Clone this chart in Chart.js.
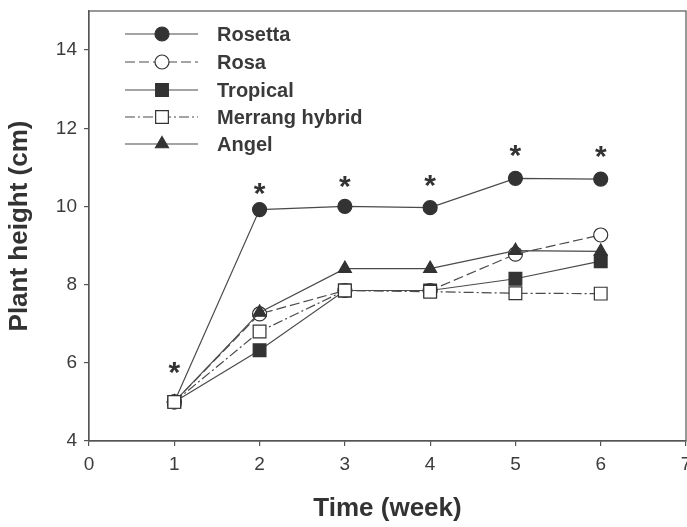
<!DOCTYPE html>
<html><head><meta charset="utf-8">
<script src="https://cdn.jsdelivr.net/npm/chart.js@4/dist/chart.umd.min.js"></script>
<style>html,body{margin:0;padding:0;background:#fff;overflow:hidden;}#wrap{width:700px;height:527px;}</style>
</head><body><div id="wrap"><canvas id="c" width="700" height="527"></canvas></div>
<script>
const weeks = [1, 2, 3, 4, 5, 6];
const rosetta = [5.0, 9.92, 10.0, 9.97, 10.72, 10.7];
const rosa = [5.0, 7.25, 7.85, 7.85, 8.78, 9.27];
const tropical = [5.0, 6.32, 7.85, 7.85, 8.15, 8.6];
const merrang = [5.0, 6.8, 7.85, 7.82, 7.78, 7.77];
const angel = [5.0, 7.29, 8.41, 8.41, 8.87, 8.85];
const asteriskY = [5.94, 10.53, 10.71, 10.73, 11.5, 11.47];
const xTicks = [0, 1, 2, 3, 4, 5, 6, 7];
const yTicks = [4, 6, 8, 10, 12, 14];
const seriesNames = ['Rosetta', 'Rosa', 'Tropical', 'Merrang hybrid', 'Angel'];

const ink = '#333';
const lineInk = '#4a4a4a';
const FONT = '"Liberation Sans", Arial, sans-serif';
function pts(arr){ return weeks.map((w,i)=>({x:w,y:arr[i]})); }

const styles = [
  {data: rosetta, pointStyle:'circle', radius:7, fill:ink, dash:[], order:4},
  {data: rosa, pointStyle:'circle', radius:7, fill:'#fff', dash:[10,4], order:3},
  {data: tropical, pointStyle:'rect', radius:9, fill:ink, dash:[], order:1},
  {data: merrang, pointStyle:'rect', radius:9, fill:'#fff', dash:[10,3,2,3], order:0},
  {data: angel, pointStyle:'triangle', radius:7.5, fill:ink, dash:[], order:2}
];

const datasets = styles.map((s,i)=>({
  label: seriesNames[i],
  data: pts(s.data),
  order: s.order,
  borderColor: lineInk,
  borderWidth: 1.2,
  borderDash: s.dash,
  pointStyle: s.pointStyle,
  pointRadius: s.radius,
  pointHoverRadius: s.radius,
  pointBackgroundColor: s.fill,
  pointBorderColor: ink,
  pointBorderWidth: 1.2,
  fill: false,
  tension: 0
}));

const boxPlugin = {
  id:'box',
  afterDatasetsDraw(chart){
    const {ctx, chartArea:a, scales} = chart;
    ctx.save();
    ctx.strokeStyle = '#555'; ctx.lineWidth = 1.2;
    ctx.strokeRect(a.left, a.top, a.right-a.left, a.bottom-a.top);
    // asterisks
    const as = 30;
    ctx.fillStyle = ink;
    ctx.font = 'bold ' + as + 'px ' + FONT;
    ctx.textAlign = 'center'; ctx.textBaseline = 'alphabetic';
    weeks.forEach((w,i)=>{
      const x = scales.x.getPixelForValue(w);
      const y = scales.y.getPixelForValue(asteriskY[i]);
      ctx.fillText('*', x, y + 0.575 * as);
    });
    // legend
    const lx0 = 125, lx1 = 198, mx = 162, tx = 217;
    const rows = [34, 62, 90, 117, 144];
    ctx.textAlign = 'left'; ctx.textBaseline = 'middle';
    ctx.font = 'bold 20px ' + FONT;
    styles.forEach((s,i)=>{
      const y = rows[i];
      ctx.strokeStyle = lineInk; ctx.lineWidth = 1.2;
      ctx.setLineDash(s.dash);
      ctx.beginPath(); ctx.moveTo(lx0, y); ctx.lineTo(lx1, y); ctx.stroke();
      ctx.setLineDash([]);
      ctx.fillStyle = s.fill; ctx.strokeStyle = ink;
      Chart.helpers.drawPoint(ctx, {pointStyle:s.pointStyle, radius:s.radius, rotation:0, borderWidth:1.2}, mx, y);
      ctx.fillStyle = '#3a3a3a';
      ctx.fillText(seriesNames[i], tx, y + 1);
    });
    ctx.restore();
  }
};

new Chart(document.getElementById('c'), {
  type:'line',
  data:{datasets},
  options:{
    responsive:false,
    animation:false,
    layout:{padding:{top:11, right:14, left:0, bottom:0}},
    plugins:{legend:{display:false}, tooltip:{enabled:false}},
    scales:{
      x:{
        type:'linear', min:0, max:7,
        afterBuildTicks(s){ s.ticks = xTicks.map(v=>({value:v})); },
        afterFit(s){ s.height = 86; s.paddingLeft = 0; s.paddingRight = 0; },
        grid:{drawOnChartArea:false, drawTicks:true, tickLength:5, color:'#555', lineWidth:1.2},
        border:{display:true, color:'#555', width:1.2},
        ticks:{color:'#3c3c3c', font:{family:FONT, size:19}, padding:7, maxRotation:0},
        title:{display:true, text:'Time (week)', color:'#333', font:{family:FONT, size:26, weight:'bold'}, padding:{top:4, bottom:3}}
      },
      y:{
        type:'linear', min:4, max:15,
        afterBuildTicks(s){ s.ticks = yTicks.map(v=>({value:v})); },
        afterFit(s){ s.width = 89; s.paddingTop = 0; s.paddingBottom = 0; },
        grid:{drawOnChartArea:false, drawTicks:true, tickLength:5, color:'#555', lineWidth:1.2},
        border:{display:true, color:'#555', width:1.2},
        ticks:{color:'#3c3c3c', font:{family:FONT, size:19}, padding:7},
        title:{display:true, text:'Plant height (cm)', color:'#333', font:{family:FONT, size:26, weight:'bold'}, padding:{top:4, bottom:0}}
      }
    }
  },
  plugins:[boxPlugin]
});
</script></body></html>
